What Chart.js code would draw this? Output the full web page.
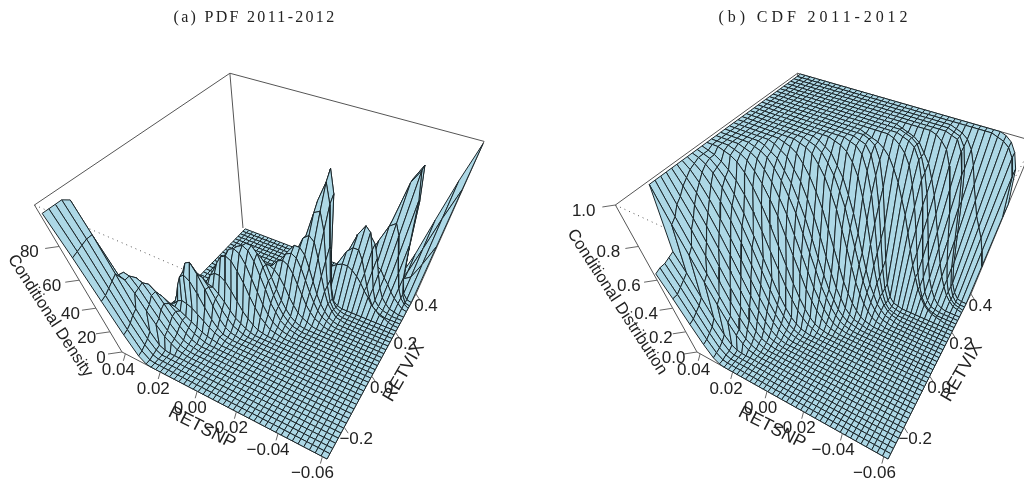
<!DOCTYPE html>
<html>
<head>
<meta charset="utf-8">
<title>PDF and CDF 2011-2012</title>
<script src="https://cdn.jsdelivr.net/npm/chart.js@4/dist/chart.umd.min.js"></script>
<style>
    html, body { margin: 0; background: #fff; overflow: hidden; }
    #wrap { display: flex; width: 1024px; height: 483px; }
    canvas { display: block; }
</style>
</head>
<body>
<div id="wrap">
    <canvas id="pdfChart" width="512" height="483"></canvas>
    <canvas id="cdfChart" width="512" height="483"></canvas>
</div>
<script>
// axis ranges and ticks
const snpRange = [-0.062, 0.042];
const vixRange = [-0.31, 0.40];
const snpSurfaceMax = 0.0405;
const snpTicks = [0.04, 0.02, 0.00, -0.02, -0.04, -0.06];
const vixTicks = [-0.2, 0.0, 0.2, 0.4];
const densityTicks = [0, 20, 40, 60, 80];
const distTicks = [0.0, 0.2, 0.4, 0.6, 0.8, 1.0];

// one row per RETVIX step (low to high), values run from high RETSNP to low RETSNP,
// anything past the end of a row is 0
const densityGrid = [
    [97,76,50,25,7,1],
    [97,77,51,26,8,1],
    [97,78,53,28,10,2],
    [97,79,55,31,12,3],
    [95,79,57,33,15,4,1],
    [40,52,50,42,30,20,11,6,2,1],
    [39,51,50,43,32,22,13,7,3,1],
    [28,40,46,44,36,26,16,9,4,2,1],
    [20,32,38,40,36,28,19,12,7,3,1],
    [15,22,27,30,29,25,20,14,9,5,3,1],
    [10,13,16,19,20,19,17,14,11,8,5,3,2,1],
    [5,7,10,13,17,21,23,22,20,16,12,8,5,3,1],
    [1,2,6,12,21,31,39,42,39,31,21,12,6,2,1],
    [0,1,4,9,17,28,40,48,50,43,33,21,11,5,2,1],
    [1,3,5,10,16,24,32,38,40,38,32,24,16,10,5,3,1],
    [0,1,2,4,7,11,16,22,27,30,29,25,20,14,9,6,3,1],
    [0,0,1,2,5,9,14,21,28,34,37,37,34,28,21,14,9,5,2,1],
    [0,0,1,2,3,7,11,18,26,35,42,48,50,48,42,35,26,18,11,7,3,2,1],
    [0,0,0,1,2,4,7,12,19,28,37,46,52,54,52,46,37,28,19,12,7,4,2,1],
    [0,0,0,0,1,2,4,7,13,19,29,38,47,53,55,53,47,38,29,19,13,7,4,2,1],
    [0,0,0,0,0,1,2,4,8,13,21,31,41,49,54,54,50,42,33,23,15,9,5,2,1],
    [0,0,0,0,0,0,0,1,2,5,9,15,24,32,40,45,45,41,33,25,17,11,6,3,1],
    [0,0,0,0,0,0,0,0,1,3,5,8,13,19,26,32,36,38,36,32,26,19,13,8,5,3,1],
    [0,0,0,0,0,0,0,0,0,0,1,3,5,9,14,21,28,35,40,42,40,35,28,21,14,9,5,3,1],
    [0,0,0,0,0,0,0,0,0,0,0,1,3,5,9,15,22,30,38,44,46,44,38,30,22,15,9,5,3,1],
    [0,0,0,0,0,0,0,0,0,0,0,0,1,3,6,11,17,26,36,44,49,49,45,37,28,19,12,7,3,1],
    [0,0,0,0,0,0,0,0,0,0,0,0,0,0,1,2,6,11,20,31,43,53,56,53,43,31,20,11,6,2,1],
    [0,0,0,0,0,0,0,0,0,0,0,0,0,0,0,0,1,2,5,15,31,52,68,70,59,40,22,10,4,1],
    [0,0,0,0,0,0,0,0,0,0,0,0,0,0,0,0,0,1,3,9,24,48,73,84,73,48,24,9,3,1],
    [0,0,0,0,0,0,0,0,0,0,0,0,0,0,0,0,0,0,0,2,9,29,68,89,77,43,16,4,1],
    [0,0,0,0,0,0,0,0,0,0,0,0,0,0,0,0,0,1,3,4,7,10,15,19,24,28,31,33,33,31,28,24,19,15,10,7,4,3,1],
    [0,0,0,0,0,0,0,0,0,0,0,0,0,0,0,0,0,0,0,0,0,1,3,7,13,22,31,40,44,44,38,29,20,12,6,3,1],
    [0,0,0,0,0,0,0,0,0,0,0,0,0,0,0,0,0,0,0,0,0,0,1,2,5,13,24,38,51,58,55,44,30,17,8,4,2,1],
    [0,0,0,0,0,0,0,0,0,0,0,0,0,0,0,0,0,0,0,0,0,0,1,3,7,12,21,31,41,48,50,46,37,26,16,9,5,2,1],
    [0,0,0,0,0,0,0,0,0,0,0,0,0,0,0,0,0,0,0,0,0,1,2,3,5,8,12,17,21,25,29,30,29,27,22,18,13,9,6,3,2],
    [0,0,0,0,0,0,0,0,0,0,0,0,0,0,0,0,0,0,0,0,0,0,0,0,0,1,3,5,11,21,32,44,55,58,51,38,26,15,8,4,2],
    [0,0,0,0,0,0,0,0,0,0,0,0,0,0,0,0,0,0,0,0,0,0,0,0,0,0,0,0,1,4,12,29,56,80,87,72,45,21,8,2,1],
    [0,0,0,0,0,0,0,0,0,0,0,0,0,0,0,0,0,0,0,0,0,0,0,0,0,0,0,0,1,3,9,25,52,80,88,70,40,17,6,2,1],
    [0,0,0,0,0,0,0,0,0,0,0,0,0,0,0,0,0,0,0,0,0,0,0,0,0,0,0,0,0,1,4,10,20,35,40,30,20,15,18,30,45],
    [0,0,0,0,0,0,0,0,0,0,0,0,0,0,0,0,0,0,0,0,0,0,0,0,0,0,0,0,0,0,0,0,0,1,2,4,8,18,38,60,78],
    [0,0,0,0,0,0,0,0,0,0,0,0,0,0,0,0,0,0,0,0,0,0,0,0,0,0,0,0,0,0,0,0,0,0,1,4,12,30,56,80,99],
];

const cdfGrid = [
    [.65,.5,.32,.16,.05,.01],
    [.66,.5,.33,.17,.06,.01],
    [.66,.52,.35,.19,.07,.02],
    [.67,.54,.37,.21,.09,.02],
    [.68,.56,.4,.25,.12,.04,.01],
    [1,.82,.66,.5,.35,.22,.12,.06,.02,.01],
    [1,.84,.69,.53,.38,.24,.14,.07,.03,.01],
    [1,.88,.76,.62,.47,.33,.21,.12,.06,.03,.01],
    [1,.9,.8,.68,.54,.4,.27,.17,.09,.04,.02,.01],
    [1,.93,.85,.75,.63,.5,.37,.25,.15,.08,.04,.02,.01],
    [1,.95,.89,.8,.7,.58,.45,.32,.21,.13,.07,.03,.01],
    [1,.97,.92,.85,.76,.66,.54,.41,.29,.19,.11,.06,.03,.01],
    [1,.98,.95,.9,.83,.74,.62,.49,.36,.24,.15,.08,.04,.02,.01],
    [1,.99,.97,.94,.88,.8,.7,.58,.44,.31,.2,.12,.06,.03,.01],
    [1,.99,.98,.95,.91,.84,.75,.63,.5,.37,.25,.16,.09,.05,.02,.01],
    [1,.99,.98,.96,.93,.89,.83,.75,.65,.53,.42,.31,.22,.14,.09,.05,.03,.01],
    [1,1,1,.99,.98,.96,.92,.86,.78,.68,.56,.44,.32,.22,.14,.08,.04,.02,.01],
    [1,1,1,1,.99,.98,.96,.92,.87,.8,.72,.61,.5,.39,.28,.2,.13,.08,.04,.02,.01],
    [1,1,1,1,1,.99,.98,.96,.92,.87,.8,.72,.61,.5,.39,.28,.2,.13,.08,.04,.02,.01],
    [1,1,1,1,1,1,.99,.98,.96,.92,.87,.8,.72,.61,.5,.39,.28,.2,.13,.08,.04,.02,.01],
    [1,1,1,1,1,1,1,.99,.97,.95,.9,.85,.77,.68,.57,.45,.34,.24,.17,.1,.06,.03,.02,.01],
    [1,1,1,1,1,1,1,1,.99,.97,.95,.9,.85,.77,.68,.57,.45,.34,.24,.17,.1,.06,.03,.02,.01],
    [1,1,1,1,1,1,1,1,1,.99,.98,.96,.92,.87,.8,.72,.61,.5,.39,.28,.2,.13,.08,.04,.02,.01],
    [1,1,1,1,1,1,1,1,1,1,1,.99,.98,.96,.92,.87,.8,.72,.61,.5,.39,.28,.2,.13,.08,.04,.02,.01],
    [1,1,1,1,1,1,1,1,1,1,1,1,.99,.98,.96,.92,.87,.8,.72,.61,.5,.39,.28,.2,.13,.08,.04,.02,.01],
    [1,1,1,1,1,1,1,1,1,1,1,1,1,.99,.97,.95,.9,.85,.77,.68,.57,.45,.34,.24,.17,.1,.06,.03,.02,.01],
    [1,1,1,1,1,1,1,1,1,1,1,1,1,1,1,.99,.98,.96,.92,.86,.76,.64,.5,.36,.24,.14,.08,.04,.02,.01],
    [1,1,1,1,1,1,1,1,1,1,1,1,1,1,1,1,1,.99,.98,.95,.88,.77,.61,.43,.26,.14,.06,.02,.01],
    [1,1,1,1,1,1,1,1,1,1,1,1,1,1,1,1,1,1,.99,.98,.94,.85,.7,.5,.3,.15,.06,.02,.01],
    [1,1,1,1,1,1,1,1,1,1,1,1,1,1,1,1,1,1,1,.99,.97,.91,.78,.57,.34,.16,.06,.02,.01],
    [1,1,1,1,1,1,1,1,1,1,1,1,1,1,1,1,1,1,.99,.98,.97,.95,.92,.87,.81,.73,.65,.55,.45,.35,.27,.19,.13,.08,.05,.03,.02,.01],
    [1,1,1,1,1,1,1,1,1,1,1,1,1,1,1,1,1,1,1,1,1,1,.99,.97,.94,.89,.8,.69,.56,.42,.28,.18,.1,.05,.02,.01],
    [1,1,1,1,1,1,1,1,1,1,1,1,1,1,1,1,1,1,1,1,1,1,1,.99,.98,.96,.91,.82,.69,.53,.37,.23,.12,.06,.02,.01],
    [1,1,1,1,1,1,1,1,1,1,1,1,1,1,1,1,1,1,1,1,1,1,1,.99,.98,.96,.91,.84,.74,.61,.47,.33,.21,.13,.07,.03,.01],
    [1,1,1,1,1,1,1,1,1,1,1,1,1,1,1,1,1,1,1,1,1,1,.99,.98,.97,.95,.91,.87,.8,.72,.62,.52,.42,.32,.23,.16,.1,.06,.03,.02,.01],
    [1,1,1,1,1,1,1,1,1,1,1,1,1,1,1,1,1,1,1,1,1,1,1,1,1,1,1,.99,.97,.94,.87,.76,.63,.47,.32,.19,.1,.05,.02,.01],
    [1,1,1,1,1,1,1,1,1,1,1,1,1,1,1,1,1,1,1,1,1,1,1,1,1,1,1,1,1,.99,.98,.93,.83,.66,.46,.26,.12,.05,.01],
    [1,1,1,1,1,1,1,1,1,1,1,1,1,1,1,1,1,1,1,1,1,1,1,1,1,1,1,1,1,.99,.98,.94,.84,.67,.47,.27,.12,.05,.01],
    [1,1,1,1,1,1,1,1,1,1,1,1,1,1,1,1,1,1,1,1,1,1,1,1,1,1,1,1,1,.99,.98,.96,.92,.85,.76,.68,.6,.54,.48,.4,.3],
    [1,1,1,1,1,1,1,1,1,1,1,1,1,1,1,1,1,1,1,1,1,1,1,1,1,1,1,1,1,1,1,1,1,1,1,.99,.98,.96,.92,.84,.62],
    [1,1,1,1,1,1,1,1,1,1,1,1,1,1,1,1,1,1,1,1,1,1,1,1,1,1,1,1,1,1,1,1,1,1,1,1,.99,.97,.93,.86,.68],
];

// ---- perspective camera, same for both panels ----
const CAMERA = [
    [-184.36, 215.17, -117, 327],
    [-47.44, -75.83, -259, 459],
    [0.1692, 0.3033, -0.425, 1],
];

function projectUnit(u, v, w) {
    const row = r => CAMERA[r][0] * u + CAMERA[r][1] * v + CAMERA[r][2] * w + CAMERA[r][3];
    const d = row(2);
    return { x: row(0) / d, y: row(1) / d };
}

function project(snp, vix, w) {
    return projectUnit(
        (snp - snpRange[0]) / (snpRange[1] - snpRange[0]),
        (vix - vixRange[0]) / (vixRange[1] - vixRange[0]),
        w
    );
}

function lineSet(points, color, width, dash) {
    return {
        data: points, showLine: true, pointRadius: 0, fill: false,
        borderColor: color, borderWidth: width, borderDash: dash || [],
    };
}

function boxSets() {
    const c = (u, v, w) => projectUnit(u, v, w);
    const grey = '#555';
    return [
        lineSet([c(1, 0, 1), c(1, 1, 1), c(0, 1, 1)], grey, 1),
        lineSet([c(1, 1, 1), c(1, 1, 0)], grey, 1),
        lineSet([c(1, 0, 1), c(1, 0, 0), c(0, 0, 0), c(0, 1, 0), c(0, 1, 1)], grey, 1),
        lineSet([c(1, 0, 1), c(0, 0, 1), c(0, 1, 1)], grey, 1, [1, 4]),
        lineSet([c(0, 0, 1), c(0, 0, 0)], grey, 1, [1, 4]),
    ];
}

// quads painted back to front
function surfaceSets(grid, zMax) {
    const cells = grid.length - 1;
    const snpAt = k => snpSurfaceMax - k * (snpSurfaceMax - snpRange[0]) / cells;
    const vixAt = j => vixRange[0] + j * (vixRange[1] - vixRange[0]) / cells;
    const pt = (j, k) => project(snpAt(k), vixAt(j), (grid[j][k] ?? 0) / zMax);
    const sets = [];
    for (let j = cells - 1; j >= 0; j--) {
        for (let k = 0; k < cells; k++) {
            sets.push({
                data: [pt(j, k), pt(j + 1, k), pt(j + 1, k + 1), pt(j, k + 1), pt(j, k)],
                showLine: true, pointRadius: 0, fill: 'shape',
                backgroundColor: '#add8e6', borderColor: '#1a2529', borderWidth: 1,
            });
        }
    }
    return sets;
}

function tickSets(zTicks, zMax) {
    const sets = [];
    const grey = '#666';
    snpTicks.forEach(t => {
        const p = project(t, vixRange[0], 0);
        sets.push(lineSet([p, { x: p.x - 2, y: p.y + 7 }], grey, 1));
    });
    vixTicks.forEach(t => {
        const p = project(snpRange[0], t, 0);
        sets.push(lineSet([p, { x: p.x + 4, y: p.y + 6 }], grey, 1));
    });
    zTicks.forEach(t => {
        const p = project(snpRange[1], vixRange[0], t / zMax);
        sets.push(lineSet([p, { x: p.x - 14, y: p.y + 2 }], grey, 1));
    });
    return sets;
}

// ---- text plugin: titles, tick labels, rotated axis names ----
function textPlugin(cfg) {
    return {
        id: 'surfaceText',
        afterDraw(chart) {
            const { ctx, scales } = chart;
            const px = p => ({ x: scales.x.getPixelForValue(p.x), y: scales.y.getPixelForValue(p.y) });
            ctx.save();
            ctx.fillStyle = '#222';
            ctx.textAlign = 'center';
            ctx.textBaseline = 'middle';

            ctx.font = '16px "Liberation Serif"';
            ctx.letterSpacing = cfg.titleSpacing;
            ctx.fillText(cfg.title, cfg.titleX, 18);
            ctx.letterSpacing = '0px';

            ctx.font = '17px "Liberation Sans"';
            snpTicks.forEach(t => {
                const p = project(t, vixRange[0], 0);
                const o = px({ x: p.x + (t < 0 ? -10 : -7), y: p.y + 17 });
                ctx.fillText(t.toFixed(2).replace('-', '\u2212'), o.x, o.y);
            });
            vixTicks.forEach(t => {
                const p = project(snpRange[0], t, 0);
                const o = px({ x: p.x + (t < 0 ? 12 : 10), y: p.y + 12 });
                ctx.fillText(t.toFixed(1).replace('-', '\u2212'), o.x, o.y);
            });
            cfg.zTicks.forEach(t => {
                const w = t / cfg.zMax;
                const p = project(snpRange[1], vixRange[0], w);
                const o = px({ x: p.x + cfg.zLabelDx - cfg.zLabelSlope * w, y: p.y + 6 });
                ctx.fillText(cfg.zFormat(t), o.x, o.y);
            });

            cfg.axisNames.forEach(a => {
                ctx.save();
                ctx.translate(a.x, a.y);
                ctx.rotate(a.angle * Math.PI / 180);
                ctx.font = a.size + 'px "Liberation Sans"';
                ctx.fillText(a.text, 0, 0);
                ctx.restore();
            });
            ctx.restore();
        },
    };
}

function drawPanel(id, grid, cfg) {
    // Chart.js paints the first dataset last, so the list is reversed
    const sets = [...boxSets(), ...surfaceSets(grid, cfg.zMax), ...tickSets(cfg.zTicks, cfg.zMax)].reverse();
    new Chart(document.getElementById(id), {
        type: 'scatter',
        data: { datasets: sets },
        options: {
            responsive: false,
            animation: false,
            devicePixelRatio: 1,
            parsing: false,
            normalized: true,
            events: [],
            layout: { padding: 0 },
            elements: { line: { tension: 0 } },
            plugins: { legend: { display: false }, tooltip: { enabled: false } },
            scales: {
                x: { type: 'linear', display: false, min: cfg.xMin, max: cfg.xMax },
                y: { type: 'linear', display: false, min: 0, max: 483, reverse: true },
            },
        },
        plugins: [textPlugin(cfg)],
    });
}

drawPanel('pdfChart', densityGrid, {
    title: '(a) PDF 2011-2012', titleX: 255, titleSpacing: '2.3px',
    xMin: 0, xMax: 512,
    zMax: 100, zTicks: densityTicks, zFormat: t => String(t), zLabelDx: -21, zLabelSlope: 11,
    axisNames: [
        { text: 'Conditional Density', x: 50, y: 316, angle: 57, size: 16.5 },
        { text: 'RETSNP', x: 202, y: 428, angle: 27, size: 18 },
        { text: 'RETVIX', x: 404, y: 372, angle: -60, size: 18 },
    ],
});

drawPanel('cdfChart', cdfGrid, {
    title: '(b) CDF 2011-2012', titleX: 303, titleSpacing: '3.9px',
    xMin: -76.5, xMax: 472.9,
    zMax: 1, zTicks: distTicks, zFormat: t => t.toFixed(1), zLabelDx: -25, zLabelSlope: 9,
    axisNames: [
        { text: 'Conditional Distribution', x: 105, y: 302, angle: 57, size: 16.5 },
        { text: 'RETSNP', x: 260, y: 428, angle: 27, size: 18 },
        { text: 'RETVIX', x: 450, y: 372, angle: -60, size: 18 },
    ],
});
</script>
</body>
</html>
